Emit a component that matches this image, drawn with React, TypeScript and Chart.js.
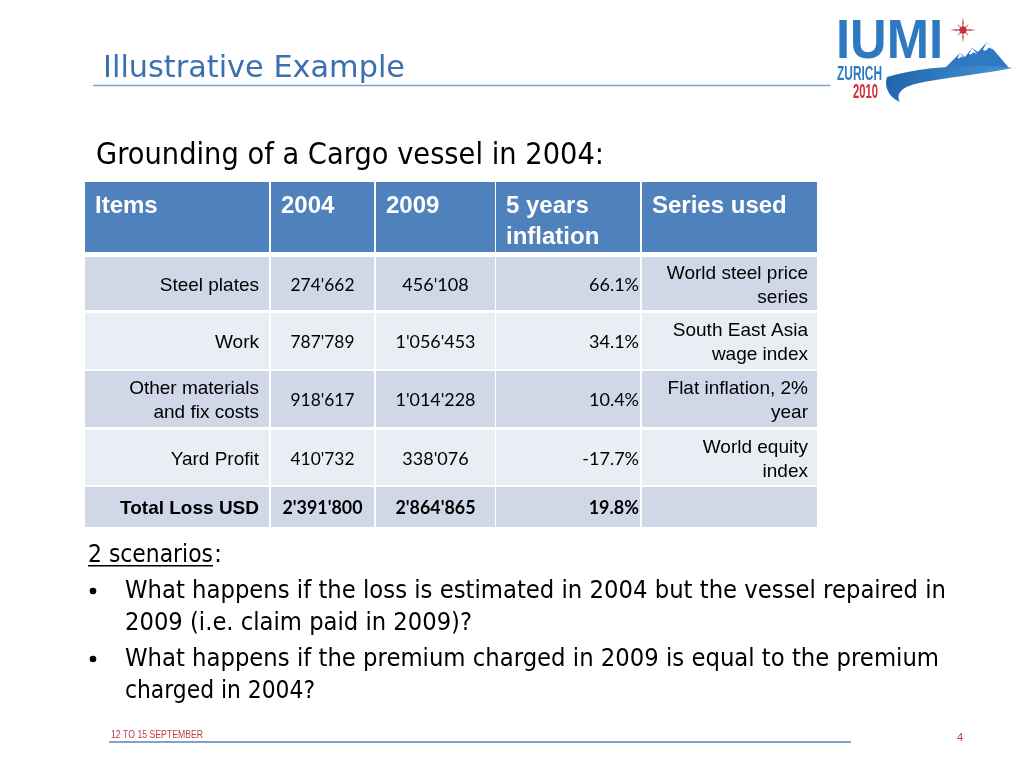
import React, { useEffect, useRef } from "react";
import { Chart, registerables } from "chart.js";

Chart.register(...registerables);

// ---- data ----
const slideTitle = "Illustrative Example";
const subtitle = "Grounding of a Cargo vessel in 2004:";
const headers = ["Items", "2004", "2009", "5 years\ninflation", "Series used"];
const items = ["Steel plates", "Work", "Other materials\nand fix costs", "Yard Profit"];
const values2004 = [274662, 787789, 918617, 410732];
const values2009 = [456108, 1056453, 1014228, 338076];
const inflation = [66.1, 34.1, 10.4, -17.7];
const seriesUsed = [
  "World steel price\nseries",
  "South East Asia\nwage index",
  "Flat inflation, 2%\nyear",
  "World equity\nindex",
];
const totalLabel = "Total Loss USD";
const total2004 = 2391800;
const total2009 = 2864865;
const totalInflation = 19.8;
const scenarioTitle = "2 scenarios";
const bulletLines = [
  ["What happens if the loss is estimated in 2004 but the vessel repaired in", "2009 (i.e. claim paid in 2009)?"],
  ["What happens if the premium charged in 2009 is equal to the premium", "charged in 2004?"],
];
const footerText = "12 TO 15 SEPTEMBER";
const pageNumber = "4";

const fmt = (n: number) => n.toString().replace(/\B(?=(\d{3})+(?!\d))/g, "'");
const fmtPct = (n: number) => n.toFixed(1) + "%";

const TAHOMA = '"DejaVu Sans", sans-serif';
const ARIAL = '"Liberation Sans", Arial, sans-serif';
const NARROW = '"Liberation Sans Narrow", "Liberation Sans", Arial, sans-serif';
const CALIBRI = 'Lato, "Open Sans", sans-serif';

function drawLogo(ctx: CanvasRenderingContext2D) {
  ctx.save();
  ctx.textBaseline = "alphabetic";
  ctx.textAlign = "left";
  // IUMI
  ctx.fillStyle = "#2f79c2";
  ctx.font = "bold 56px " + NARROW;
  ctx.fillText("IUMI", 836, 58, 107);
  // ZURICH
  ctx.font = "bold 20px " + NARROW;
  ctx.fillText("ZURICH", 837, 80, 45);
  // 2010
  ctx.fillStyle = "#c8303a";
  ctx.font = "bold 20px " + NARROW;
  ctx.fillText("2010", 853, 98, 25);
  // star
  const cx = 963, cy = 30;
  ctx.fillStyle = "#c8303a";
  ctx.beginPath();
  for (let i = 0; i < 16; i++) {
    const a = (Math.PI / 8) * i - Math.PI / 2;
    const r = i % 4 === 0 ? 13 : i % 2 === 0 ? 8 : 3;
    const px = cx + r * Math.cos(a), py = cy + r * Math.sin(a);
    if (i === 0) ctx.moveTo(px, py); else ctx.lineTo(px, py);
  }
  ctx.closePath();
  ctx.fill();
  ctx.strokeStyle = "#ffffff";
  ctx.lineWidth = 1;
  ctx.beginPath();
  ctx.arc(cx, cy, 5, 0, Math.PI * 2);
  ctx.stroke();
  // mountains
  ctx.fillStyle = "#2f79c2";
  ctx.beginPath();
  ctx.moveTo(944, 69);
  ctx.lineTo(960, 53);
  ctx.lineTo(965, 57);
  ctx.lineTo(972, 48);
  ctx.lineTo(978, 52);
  ctx.lineTo(987, 42);
  ctx.lineTo(1009, 68);
  ctx.closePath();
  ctx.fill();
  ctx.fillStyle = "#ffffff";
  const snow = (px: number, py: number, w: number, h: number) => {
    ctx.beginPath();
    ctx.moveTo(px, py);
    ctx.lineTo(px + w, py + h);
    ctx.lineTo(px + w * 0.3, py + h * 0.7);
    ctx.lineTo(px - w * 0.2, py + h * 1.1);
    ctx.lineTo(px - w * 0.6, py + h);
    ctx.closePath();
    ctx.fill();
  };
  snow(987, 42, 7, 8);
  snow(972, 48, 5, 6);
  snow(960, 53, 4, 5);
  // wave
  const g = ctx.createLinearGradient(885, 70, 1017, 100);
  g.addColorStop(0, "#1f63ad");
  g.addColorStop(1, "#4a9ad8");
  ctx.fillStyle = g;
  ctx.beginPath();
  ctx.moveTo(887, 77);
  ctx.bezierCurveTo(925, 66, 975, 64, 1013, 68);
  ctx.bezierCurveTo(985, 74, 945, 77, 915, 84);
  ctx.bezierCurveTo(900, 88, 896, 95, 900, 102);
  ctx.bezierCurveTo(888, 97, 884, 86, 887, 77);
  ctx.closePath();
  ctx.fill();
  ctx.restore();
}

const slidePlugin = {
  id: "slide",
  beforeDraw(chart: any) {
    const ctx: CanvasRenderingContext2D = chart.ctx;
    ctx.save();
    ctx.fillStyle = "#ffffff";
    ctx.fillRect(0, 0, chart.width, chart.height);

    // title
    ctx.textBaseline = "alphabetic";
    ctx.textAlign = "left";
    ctx.fillStyle = "#3a70b0";
    ctx.font = "31px " + TAHOMA;
    ctx.fillText(slideTitle, 103, 77, 302);
    ctx.strokeStyle = "#7ea3d0";
    ctx.lineWidth = 1.5;
    ctx.beginPath();
    ctx.moveTo(93, 85.5);
    ctx.lineTo(830, 85.5);
    ctx.stroke();

    drawLogo(ctx);

    // subtitle
    ctx.fillStyle = "#000000";
    ctx.font = "30px " + TAHOMA;
    ctx.fillText(subtitle, 96, 164, 508);

    // table geometry
    const colX = [85, 271, 376, 496, 642];
    const colR = [269, 374, 495, 640, 817];
    const headTop = 182, headBot = 252;
    const rowTop = [257, 313, 371, 430, 487];
    const rowBot = [310, 369, 427, 485, 527];
    const rowFill = ["#d0d8e8", "#e9edf4", "#d0d8e8", "#e9edf4", "#d0d8e8"];

    // header
    for (let c = 0; c < 5; c++) {
      ctx.fillStyle = "#4f81bd";
      ctx.fillRect(colX[c], headTop, colR[c] - colX[c], headBot - headTop);
    }
    ctx.fillStyle = "#ffffff";
    ctx.font = "bold 24px " + ARIAL;
    headers.forEach((h, c) => {
      h.split("\n").forEach((ln, i) => {
        ctx.fillText(ln, colX[c] + 10, 213 + i * 31);
      });
    });

    // body rows
    const nRows = items.length + 1;
    for (let r = 0; r < nRows; r++) {
      for (let c = 0; c < 5; c++) {
        ctx.fillStyle = rowFill[r];
        ctx.fillRect(colX[c], rowTop[r], colR[c] - colX[c], rowBot[r] - rowTop[r]);
      }
    }

    const drawMulti = (text: string, x: number, midY: number, lh: number) => {
      const lines = text.split("\n");
      const start = midY - ((lines.length - 1) * lh) / 2;
      lines.forEach((ln, i) => ctx.fillText(ln, x, start + i * lh));
    };

    ctx.fillStyle = "#000000";
    for (let r = 0; r < items.length; r++) {
      const mid = (rowTop[r] + rowBot[r]) / 2 + 7;
      ctx.font = "19px " + ARIAL;
      ctx.textAlign = "right";
      drawMulti(items[r], 259, mid, 24);
      drawMulti(seriesUsed[r], 808, mid, 24);
      ctx.font = "18px " + CALIBRI;
      ctx.textAlign = "center";
      ctx.fillText(fmt(values2004[r]), (colX[1] + colR[1]) / 2, mid, 64);
      ctx.fillText(fmt(values2009[r]), (colX[2] + colR[2]) / 2, mid, 80);
      ctx.textAlign = "right";
      ctx.fillText(fmtPct(inflation[r]), 639, mid);
    }
    // total
    const tr = items.length;
    const tmid = (rowTop[tr] + rowBot[tr]) / 2 + 7;
    ctx.font = "bold 19px " + ARIAL;
    ctx.textAlign = "right";
    ctx.fillText(totalLabel, 259, tmid);
    ctx.font = "bold 18px " + CALIBRI;
    ctx.textAlign = "center";
    ctx.fillText(fmt(total2004), (colX[1] + colR[1]) / 2, tmid, 80);
    ctx.fillText(fmt(total2009), (colX[2] + colR[2]) / 2, tmid, 80);
    ctx.textAlign = "right";
    ctx.fillText(fmtPct(totalInflation), 639, tmid);

    // scenarios
    ctx.textAlign = "left";
    ctx.fillStyle = "#000000";
    ctx.font = "24px " + TAHOMA;
    ctx.fillText(scenarioTitle, 88, 562, 125);
    ctx.fillText(":", 214, 562);
    ctx.fillRect(88, 565, 125, 1.5);
    const lineY = [598, 630, 666, 698];
    let k = 0;
    const widths = [821, 347, 814, 190];
    bulletLines.forEach((bl) => {
      ctx.beginPath();
      ctx.arc(93, lineY[k] - 7, 3.3, 0, Math.PI * 2);
      ctx.fill();
      bl.forEach((ln) => {
        ctx.fillText(ln, 125, lineY[k], widths[k]);
        k++;
      });
    });

    // footer
    ctx.fillStyle = "#c0394a";
    ctx.font = "10px " + NARROW;
    ctx.fillText(footerText, 111, 738, 92);
    ctx.font = "11px " + ARIAL;
    ctx.fillText(pageNumber, 957, 741);
    ctx.strokeStyle = "#5b7fb8";
    ctx.lineWidth = 1.5;
    ctx.beginPath();
    ctx.moveTo(109, 742);
    ctx.lineTo(851, 742);
    ctx.stroke();

    ctx.restore();
  },
};

export default function App() {
  const ref = useRef<HTMLCanvasElement>(null);
  useEffect(() => {
    if (!ref.current) return;
    const chart = new Chart(ref.current, {
      type: "bar",
      data: { labels: [], datasets: [] },
      options: {
        responsive: false,
        animation: false,
        devicePixelRatio: 1,
        events: [],
        plugins: { legend: { display: false }, tooltip: { enabled: false } },
        scales: { x: { display: false }, y: { display: false } },
      },
      plugins: [slidePlugin],
    });
    return () => chart.destroy();
  }, []);
  return (
    <div style={{ position: "absolute", left: 0, top: 0, width: 1024, height: 768, background: "#fff" }}>
      <canvas ref={ref} width={1024} height={768} style={{ display: "block" }} />
    </div>
  );
}
